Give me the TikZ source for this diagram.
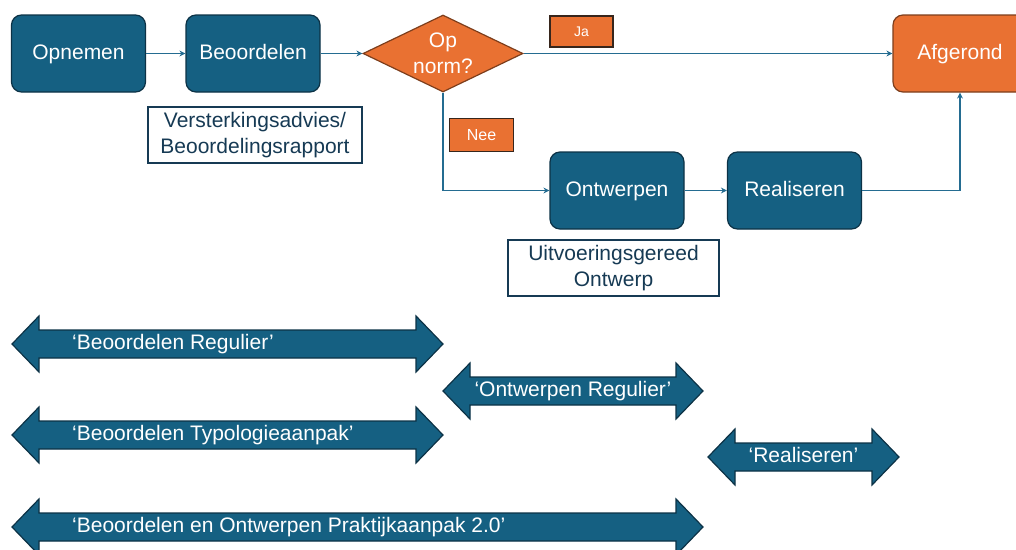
\documentclass[tikz,border=0pt]{standalone}
\usepackage{fontspec}
\setmainfont{Liberation Sans}
\usetikzlibrary{arrows.meta, shapes.geometric, positioning}
\usepackage{xcolor}
\definecolor{tealblue}{RGB}{21,96,130}
\definecolor{tealdark}{RGB}{12,50,70}
\definecolor{linkblue}{RGB}{36,108,145}
\definecolor{docblue}{RGB}{22,58,84}
\definecolor{flagorange}{RGB}{233,113,50}
\definecolor{flagdark}{RGB}{125,62,28}
\definecolor{tagdark}{RGB}{55,38,28}
\tikzset{stepnode/.style={rectangle, rounded corners=10pt, fill=tealblue, draw=tealdark, line width=1.2pt, text=white, minimum width=134pt, minimum height=77pt, text height=15pt, text depth=4pt, font=\fontsize{21}{25}\selectfont},
endnode/.style={stepnode, fill=flagorange, draw=flagdark},
docnode/.style={rectangle, fill=white, draw=docblue, line width=1.2pt, text=docblue, align=center, minimum height=56pt, inner sep=0pt, font=\fontsize{21}{26}\selectfont},
tagnode/.style={rectangle, fill=flagorange, draw=tagdark, line width=1.6pt, text=white, inner sep=0pt}}
\tikzset{link/.style={draw=linkblue, line width=1.3pt, -{Stealth[length=6pt, width=6pt]}},
bandarrow/.style={fill=tealblue, draw=tealdark, line width=1.2pt, line join=miter},
bandlabel/.style={text=white, inner sep=0pt, text height=15pt, text depth=4pt, font=\fontsize{21}{25}\selectfont}}

\begin{document}
\begin{tikzpicture}[x=1pt, y=-1pt]
        \useasboundingbox (0,0) rectangle (1016,549);
        \clip (0,0) rectangle (1016,549);
        % Process steps
        \node[stepnode] (opnemen) at (78.5,53.5) {Opnemen};
        \node[stepnode] (beoordelen) at (253,53.5) {Beoordelen};
        \node[diamond, fill=flagorange, draw=flagdark, line width=1.2pt, minimum width=160pt, minimum height=77pt, inner sep=0pt,
            label={[text=white, align=center, font=\fontsize{21}{26}\selectfont]center:Op\\norm?}] (norm) at (443,53.5) {};
        \node[endnode] (afgerond) at (960,53.5) {Afgerond};
        \node[stepnode] (ontwerpen) at (617,190.5) {Ontwerpen};
        \node[stepnode] (realiseren) at (794.5,190.5) {Realiseren};
        % Products
        \node[docnode, minimum width=214pt] (advies) at (255,135) {Versterkingsadvies/\\Beoordelingsrapport};
        \node[docnode, minimum width=211pt] (ontwerp) at (613.5,268) {Uitvoeringsgereed\\Ontwerp};
        % Decision tags
        \node[tagnode, minimum width=63pt, minimum height=31pt, font=\fontsize{14}{16}\selectfont] (ja) at (581.5,31.5) {Ja};
        \node[tagnode, minimum width=64pt, minimum height=33pt, font=\fontsize{16}{18}\selectfont] (nee) at (481.5,135) {Nee};
        % Connectors
        \draw[link] (opnemen) -- (beoordelen);
        \draw[link] (beoordelen) -- (norm);
        \draw[link] (norm.east) -- (afgerond.west);
        \draw[link] (norm.south) |- (ontwerpen.west);
        \draw[link] (ontwerpen) -- (realiseren);
        \draw[link] (realiseren.east) -| (afgerond.south);
        % Scope arrows
        \foreach \xa/\xb/\yc/\tx/\anc/\lbl in {
            12/443/344/72/west/{‘Beoordelen Regulier’},
            443/703/391/573/center/{‘Ontwerpen Regulier’},
            12/443/435/72/west/{‘Beoordelen Typologieaanpak’},
            708/899/457/803.5/center/{‘Realiseren’},
            12/703/527/72/west/{‘Beoordelen en Ontwerpen Praktijkaanpak 2.0’}} {
            \draw[bandarrow] (\xa,\yc) -- (\xa+27,\yc-28) -- (\xa+27,\yc-14) -- (\xb-27,\yc-14) -- (\xb-27,\yc-28) -- (\xb,\yc)
                -- (\xb-27,\yc+28) -- (\xb-27,\yc+14) -- (\xa+27,\yc+14) -- (\xa+27,\yc+28) -- cycle;
            \node[bandlabel, anchor=\anc] (band-\yc) at (\tx,\yc) {\lbl};
        }
    \end{tikzpicture}
\end{document}
